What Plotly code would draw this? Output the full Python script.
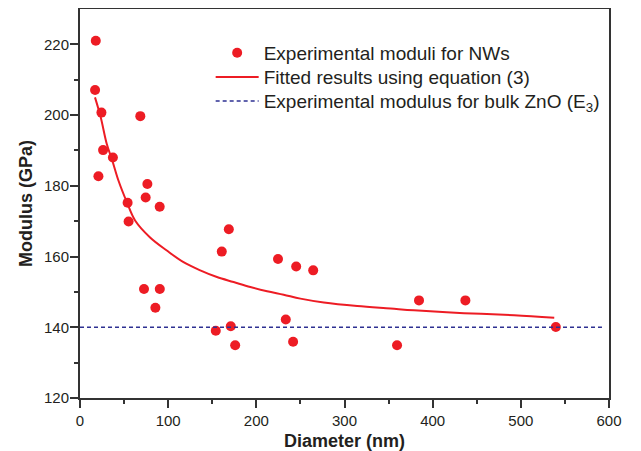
import plotly.graph_objects as go

# experimental moduli of ZnO nanowires (diameter nm, modulus GPa)
diameter = [17.9, 17.1, 24.3, 26.2, 37.3, 20.9, 68.4, 76.4, 74.5, 90.4,
            54.0, 55.1, 72.6, 90.5, 85.5, 154.0, 168.8, 160.8, 171.0, 176.0,
            224.6, 245.2, 264.5, 233.4, 241.7, 359.6, 384.5, 437.1, 539.7]
modulus = [221.0, 207.1, 200.7, 190.1, 188.0, 182.7, 199.7, 180.5, 176.7, 174.1,
           175.2, 169.9, 150.8, 150.8, 145.5, 139.0, 167.7, 161.4, 140.3, 134.9,
           159.3, 157.2, 156.1, 142.2, 135.9, 134.9, 147.6, 147.6, 140.1]

# fitted curve
fit_d = [17.0, 23.5, 30.3, 36.7, 43.6, 53.1, 62.5, 79.5, 98.5, 117.4, 136.4,
         155.3, 174.2, 193.2, 212.2, 231.0, 250.0, 276.5, 314.4, 352.3, 378.8,
         435.6, 492.4, 537.9]
fit_e = [205.0, 199.4, 191.9, 187.1, 181.5, 175.4, 170.2, 165.4, 161.7, 158.4, 156.1,
         154.2, 152.8, 151.4, 150.2, 149.2, 148.1, 147.0, 146.0, 145.3, 144.8,
         144.0, 143.4, 142.7]

# bulk ZnO modulus
bulk_d = [0, 592]
bulk_e = [140, 140]

red = "#ED1C24"
navy = "#2E3192"
ink = "#231F20"
frame = "#333333"

fig = go.Figure()
fig.add_trace(go.Scatter(x=diameter, y=modulus, mode="markers",
                         marker=dict(color=red, size=10), legend="legend",
                         name="Experimental moduli for NWs"))
fig.add_trace(go.Scatter(x=fit_d, y=fit_e, mode="lines", line_shape="spline",
                         line=dict(color=red, width=2), legend="legend2",
                         name="Fitted results using equation (3)"))
fig.add_trace(go.Scatter(x=bulk_d, y=bulk_e, mode="lines",
                         line=dict(color=navy, width=1.5, dash="4px,3px"), legend="legend3",
                         name="Experimental modulus for bulk ZnO (E<sub>3</sub>)"))

axis_common = dict(showline=True, linecolor=frame, linewidth=2, mirror=True,
                   ticks="outside", ticklen=8, tickwidth=1.5, tickcolor=frame,
                   showgrid=False, zeroline=False, automargin=False,
                   tickfont=dict(family="Liberation Sans", size=15, color=ink))
minor_common = dict(ticks="outside", ticklen=4, tickwidth=1.5, tickcolor=frame,
                    showgrid=False)

fig.update_xaxes(range=[0, 600], dtick=100, minor=dict(dtick=50, **minor_common),
                 ticklabelstandoff=0,
                 title=dict(text="<b>Diameter (nm)</b>", standoff=6,
                            font=dict(family="Liberation Sans", size=18, color=ink)),
                 **axis_common)
fig.update_yaxes(range=[120, 230], tickvals=[120, 140, 160, 180, 200, 220],
                 minor=dict(tickvals=[130, 150, 170, 190, 210], **minor_common),
                 ticklabelstandoff=-2,
                 title=dict(text="<b>Modulus (GPa)</b>", standoff=7,
                            font=dict(family="Liberation Sans", size=18, color=ink)),
                 **axis_common)

leg = dict(x=0.247, xanchor="left", yanchor="middle",
           bgcolor="rgba(0,0,0,0)", itemwidth=43,
           font=dict(family="Liberation Sans", size=19, color=ink))

# page body adds an 8px offset, so the figure is sized to fit the window
fig.update_layout(
    width=633, height=443,
    margin=dict(l=72, r=32, t=1, b=53),
    plot_bgcolor="white", paper_bgcolor="white",
    showlegend=True,
    legend=dict(y=0.887, **leg),
    legend2=dict(y=0.825, **leg),
    legend3=dict(y=0.763, **leg),
)

fig.write_html("out.html")
